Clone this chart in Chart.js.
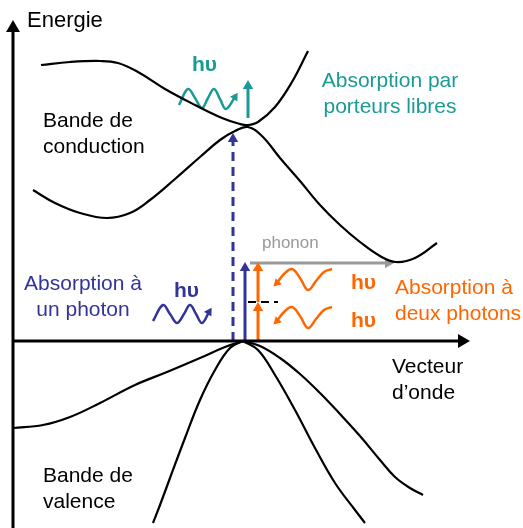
<!DOCTYPE html>
<html>
<head>
<meta charset="utf-8">
<script src="https://cdn.jsdelivr.net/npm/chart.js@4"></script>
<style>
  html,body{margin:0;padding:0;background:#fff;}
  #wrap{width:523px;height:528px;}
</style>
</head>
<body>
<div id="wrap"><canvas id="diagram" width="523" height="528"></canvas></div>
<script>
'use strict';
// points, in picture units (x right, y down)
const axisE=[{x:13,y:528},{x:13,y:28}];
const axisK=[{x:13,y:341},{x:462,y:341}];

const condUpper=[{x:41,y:65},{x:70,y:62},{x:100,y:61},{x:118,y:63},{x:138,y:72},{x:165,y:89},{x:195,y:105},{x:222,y:118},{x:240,y:124},{x:248,y:125},{x:258,y:122},{x:275,y:107},{x:292,y:82},{x:308,y:51}];
const condLower=[{x:33,y:190},{x:55,y:203},{x:80,y:213},{x:107,y:218},{x:130,y:213},{x:150,y:200},{x:175,y:179},{x:200,y:157},{x:220,y:140},{x:235,y:131},{x:248,y:127},{x:262,y:136},{x:280,y:158},{x:300,y:181},{x:320,y:205},{x:340,y:225},{x:360,y:242},{x:380,y:256},{x:396,y:262},{x:415,y:258},{x:437,y:243}];

const valWide=[{x:13,y:428},{x:43,y:425},{x:70,y:417},{x:100,y:403},{x:135,y:385},{x:167,y:372},{x:200,y:358},{x:225,y:347},{x:243,y:341}];
const valWideR=[{x:243,y:341},{x:260,y:346},{x:280,y:358},{x:300,y:374},{x:320,y:393},{x:340,y:414},{x:360,y:436},{x:380,y:460},{x:395,y:477},{x:410,y:488},{x:423,y:495}];
const valNarrowL=[{x:153,y:523},{x:160,y:505},{x:170,y:478},{x:185,y:438},{x:200,y:400},{x:215,y:370},{x:230,y:348},{x:243,y:341}];
const valNarrowR=[{x:243,y:341},{x:258,y:350},{x:275,y:375},{x:295,y:410},{x:315,y:448},{x:335,y:483},{x:355,y:510},{x:365,y:523}];

const oneDashed=[{x:233,y:341},{x:233,y:139}];
const oneSolid=[{x:245,y:341},{x:245,y:268}];
const twoLow=[{x:258,y:341},{x:258,y:308}];
const twoHigh=[{x:258,y:302},{x:258,y:268}];
const virtualLvl=[{x:248,y:302},{x:278,y:302}];
const phonon=[{x:250,y:263},{x:388,y:263}];
const freeUp=[{x:248,y:118},{x:248,y:86}];

const waveFree=[{x:179,y:105},{x:188,y:89},{x:195,y:98},{x:202,y:108},{x:208,y:98},{x:214,y:89},{x:220,y:99},{x:226,y:109},{x:235,y:97}];
const waveOne=[{x:153,y:321},{x:163,y:305},{x:170,y:314},{x:177,y:323},{x:184,y:314},{x:190,y:305},{x:196,y:314},{x:202,y:323},{x:209,y:312}];
const waveTwoHi=[{x:277,y:283},{x:284,y:274},{x:292,y:269},{x:300,y:278},{x:308,y:290},{x:316,y:281},{x:324,y:272},{x:332,y:269}];
const waveTwoLo=[{x:277,y:321},{x:284,y:312},{x:292,y:307},{x:300,y:316},{x:308,y:328},{x:316,y:319},{x:324,y:310},{x:332,y:307}];

const labels=[
  {t:['Energie'],x:27,y:27,c:'#000',f:'22px',a:'left'},
  {t:['Bande de','conduction'],x:43,y:127,c:'#000',f:'21px',a:'left'},
  {t:['Absorption par','porteurs libres'],x:390,y:87,c:'#1a9a95',f:'21px',a:'center'},
  {t:['Absorption à','un photon'],x:83,y:290,c:'#333399',f:'21px',a:'center'},
  {t:['Absorption à','deux photons'],x:395,y:294,c:'#ff6600',f:'21px',a:'left'},
  {t:['Vecteur','d\u2019onde'],x:392,y:373,c:'#000',f:'21px',a:'left'},
  {t:['Bande de','valence'],x:43,y:482,c:'#000',f:'21px',a:'left'},
  {t:['phonon'],x:262,y:248,c:'#999',f:'17px',a:'left'},
  {t:['h\u03c5'],x:192,y:71,c:'#1a9a95',f:'bold 21px',a:'left'},
  {t:['h\u03c5'],x:174,y:297,c:'#333399',f:'bold 21px',a:'left'},
  {t:['h\u03c5'],x:351,y:289,c:'#ff6600',f:'bold 21px',a:'left'},
  {t:['h\u03c5'],x:351,y:327,c:'#ff6600',f:'bold 21px',a:'left'}
];

function line(data,color,width,extra){
  return Object.assign({data,borderColor:color,backgroundColor:color,borderWidth:width,
    showLine:true,pointRadius:0,tension:0.4,fill:false},extra||{});
}
function arrow(data,color,width,rot,r,extra){
  const last=data.length-1;
  return line(data,color,width,Object.assign({
    pointStyle:'triangle',
    pointRadius:ctx=>ctx.dataIndex===last?r:0,
    pointRotation:rot,pointBorderWidth:0,
    pointBackgroundColor:color
  },extra||{}));
}

const textPlugin={
  id:'texts',
  afterDatasetsDraw(chart){
    const {ctx,scales:{x,y}}=chart;
    ctx.save();
    ctx.textBaseline='alphabetic';
    labels.forEach(l=>{
      ctx.fillStyle=l.c;
      ctx.textAlign=l.a;
      ctx.font=l.f+' "Liberation Sans", Arial, sans-serif';
      l.t.forEach((s,i)=>ctx.fillText(s,x.getPixelForValue(l.x),y.getPixelForValue(l.y+i*26)));
    });
    ctx.restore();
  }
};

new Chart(document.getElementById('diagram').getContext('2d'),{
  type:'scatter',
  data:{datasets:[
    arrow(axisE,'#000',3,0,8,{tension:0}),
    arrow(axisK,'#000',3,90,8,{tension:0}),
    line(condUpper,'#000',2.2),
    line(condLower,'#000',2.2),
    line(valWide,'#000',2.2),
    line(valWideR,'#000',2.2),
    line(valNarrowL,'#000',2.2),
    line(valNarrowR,'#000',2.2),
    arrow(oneDashed,'#333399',3,0,6,{tension:0,borderDash:[9,6]}),
    arrow(oneSolid,'#333399',3,0,6,{tension:0}),
    arrow(twoLow,'#ff6600',3,0,6,{tension:0}),
    arrow(twoHigh,'#ff6600',3,0,6,{tension:0}),
    line(virtualLvl,'#000',2,{tension:0,borderDash:[8,5]}),
    arrow(phonon,'#999',3,90,6,{tension:0}),
    arrow(freeUp,'#1a9a95',3,0,6,{tension:0}),
    arrow(waveFree,'#1a9a95',2.5,32,5),
    arrow(waveOne,'#333399',2.5,32,5),
    arrow(waveTwoHi.slice().reverse(),'#ff6600',2.5,225,5),
    arrow(waveTwoLo.slice().reverse(),'#ff6600',2.5,225,5)
  ]},
  options:{
    responsive:false,
    animation:false,
    layout:{padding:0,autoPadding:false},
    plugins:{legend:{display:false},tooltip:{enabled:false}},
    scales:{
      x:{type:'linear',min:0,max:523,display:false},
      y:{type:'linear',min:0,max:528,reverse:true,display:false}
    }
  },
  plugins:[textPlugin]
});
</script>
</body>
</html>
